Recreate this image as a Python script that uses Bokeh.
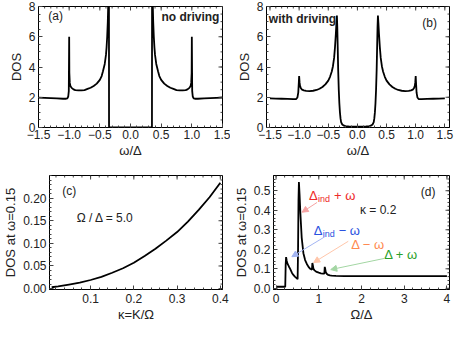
from bokeh.plotting import figure
from bokeh.layouts import column, row
from bokeh.models import FixedTicker, Arrow, NormalHead
from bokeh.core.properties import value
from bokeh.embed import file_html
from bokeh.resources import INLINE
import numpy as np

FONT = "Liberation Sans"

# ---------------- data ----------------
# (a) no driving
a_x = [-1.5, -1.4, -1.3, -1.2, -1.1, -1.05, -1.03, -1.015, -1.006, -1.0, -0.997, -0.99, -0.98,
       -0.96, -0.93, -0.9, -0.85, -0.8, -0.75, -0.7, -0.65, -0.6, -0.55, -0.5, -0.47, -0.45,
       -0.42, -0.40, -0.39, -0.38, -0.37, -0.36, -0.352, -0.35,
       0.35, 0.352, 0.36, 0.37, 0.38, 0.39, 0.40, 0.42, 0.45, 0.47, 0.5, 0.55, 0.6, 0.65, 0.7,
       0.75, 0.8, 0.85, 0.9, 0.93, 0.96, 0.98, 0.99, 0.997, 1.0, 1.006, 1.015, 1.03, 1.05, 1.1,
       1.2, 1.3, 1.4, 1.5]
a_y = [1.98, 1.96, 1.94, 1.92, 1.9, 1.9, 1.93, 2.05, 2.4, 6.0, 3.6, 2.95, 2.75,
       2.62, 2.52, 2.47, 2.45, 2.45, 2.47, 2.55, 2.63, 2.75, 2.9, 3.15, 3.4, 3.7,
       4.2, 4.8, 5.3, 6.0, 7.0, 8.6, 12.0, 0.0,
       0.0, 12.0, 8.6, 7.0, 6.0, 5.3, 4.8, 4.2, 3.7, 3.4, 3.15, 2.9, 2.75, 2.63, 2.55,
       2.47, 2.45, 2.45, 2.47, 2.52, 2.62, 2.75, 2.95, 3.6, 6.0, 2.4, 2.05, 1.93, 1.9, 1.9,
       1.92, 1.94, 1.96, 1.98]

# (b) with driving
b_x = [-1.5, -1.4, -1.3, -1.2, -1.1, -1.05, -1.03, -1.015, -1.005, -1.0, -0.993, -0.985, -0.97,
       -0.95, -0.92, -0.88, -0.82, -0.76, -0.7, -0.65, -0.6, -0.55, -0.5, -0.47, -0.44, -0.42,
       -0.40, -0.385, -0.37, -0.36, -0.352, -0.345, -0.338, -0.33, -0.32, -0.31, -0.30, -0.29,
       -0.28, -0.26, -0.23, -0.2, -0.15, -0.1, 0.0,
       0.1, 0.15, 0.2, 0.23, 0.26, 0.28, 0.29, 0.30, 0.31, 0.32, 0.33, 0.338, 0.345, 0.352, 0.36,
       0.37, 0.385, 0.40, 0.42, 0.44, 0.47, 0.5, 0.55, 0.6, 0.65, 0.7, 0.76, 0.82, 0.88, 0.92,
       0.95, 0.97, 0.985, 0.993, 1.0, 1.005, 1.015, 1.03, 1.05, 1.1, 1.2, 1.3, 1.4, 1.5]
b_y = [1.92, 1.91, 1.9, 1.89, 1.87, 1.88, 1.98, 2.3, 3.0, 3.4, 3.0, 2.75, 2.6,
       2.5, 2.45, 2.42, 2.41, 2.43, 2.48, 2.56, 2.68, 2.85, 3.1, 3.35, 3.7, 4.05,
       4.6, 5.3, 6.2, 6.9, 7.4, 6.6, 5.3, 3.8, 2.5, 1.6, 1.0, 0.6,
       0.35, 0.2, 0.12, 0.09, 0.07, 0.06, 0.06,
       0.06, 0.07, 0.09, 0.12, 0.2, 0.35, 0.6, 1.0, 1.6, 2.5, 3.8, 5.3, 6.6, 7.4, 6.9,
       6.2, 5.3, 4.6, 4.05, 3.7, 3.35, 3.1, 2.85, 2.68, 2.56, 2.48, 2.43, 2.41, 2.42, 2.45,
       2.5, 2.6, 2.75, 3.0, 3.4, 3.0, 2.3, 1.98, 1.88, 1.87, 1.89, 1.9, 1.91, 1.92]

# (c) DOS at omega=0.15 vs kappa
c_x = [0.01, 0.025, 0.05, 0.075, 0.1, 0.125, 0.15, 0.175, 0.2, 0.225, 0.25, 0.275, 0.3,
       0.325, 0.35, 0.375, 0.4]
c_y = [0.003, 0.005, 0.009, 0.013, 0.019, 0.026, 0.035, 0.045, 0.057, 0.072, 0.088, 0.106,
       0.125, 0.148, 0.174, 0.202, 0.234]

# (d) DOS at omega=0.15 vs Omega/Delta
d_x = [0.0, 0.215, 0.225, 0.235, 0.25, 0.27, 0.3, 0.33, 0.37, 0.40, 0.44, 0.48, 0.505,
       0.515, 0.525, 0.535, 0.55, 0.57, 0.6, 0.64, 0.68, 0.72, 0.76, 0.8, 0.84, 0.85, 0.86,
       0.875, 0.9, 0.95, 1.0, 1.05, 1.1, 1.13, 1.14, 1.15, 1.165, 1.19, 1.22, 1.26, 1.3, 1.4,
       1.6, 2.0, 2.5, 3.0, 3.5, 4.0]
d_y = [0.008, 0.008, 0.12, 0.16, 0.14, 0.125, 0.112, 0.1, 0.08, 0.07, 0.06, 0.052, 0.047,
       0.2, 0.45, 0.545, 0.48, 0.38, 0.26, 0.18, 0.145, 0.125, 0.11, 0.1, 0.095, 0.13, 0.12,
       0.1, 0.092, 0.084, 0.08, 0.077, 0.075, 0.075, 0.11, 0.1, 0.082, 0.073, 0.069, 0.066,
       0.065, 0.064, 0.063, 0.063, 0.063, 0.063, 0.063, 0.063]

# ticks
ab_xticks = [-1.5, -1.0, -0.5, 0.0, 0.5, 1.0, 1.5]
ab_xlabels = ["\u22121.5", "\u22121.0", "\u22120.5", "0.0", "0.5", "1.0", "1.5"]
ab_yticks = [0, 2, 4, 6, 8]
ab_ylabels = ["0", "2", "4", "6", "8"]
c_xticks = [0.1, 0.2, 0.3, 0.4]
c_xlabels = ["0.1", "0.2", "0.3", "0.4"]
c_yticks = [0.0, 0.05, 0.10, 0.15, 0.20]
c_ylabels = ["0.00", "0.05", "0.10", "0.15", "0.20"]
d_xticks = [0, 1, 2, 3, 4]
d_xlabels = ["0", "1", "2", "3", "4"]
d_yticks = [0.0, 0.1, 0.2, 0.3, 0.4, 0.5]
d_ylabels = ["0.0", "0.1", "0.2", "0.3", "0.4", "0.5"]

TICKC = "#444444"
TXTC = "#222222"


def make_fig(w, h, xr, yr, bl, br, bt, bb):
    p = figure(width=w, height=h, x_range=xr, y_range=yr, output_backend="svg",
               toolbar_location=None, min_border_left=bl, min_border_right=br,
               min_border_top=bt, min_border_bottom=bb)
    p.xgrid.visible = False
    p.ygrid.visible = False
    p.outline_line_color = "black"
    p.outline_line_width = 1
    p.background_fill_color = "white"
    p.border_fill_color = "white"
    return p


def style_axes(p, xt, xl, xstep, yt, yl, ystep, xlabel, ylabel, xstand=2):
    x0, x1 = p.x_range.start, p.x_range.end
    y0, y1 = p.y_range.start, p.y_range.end
    xminor = [float(v) for v in np.arange(xt[0] - 10 * xstep, xt[-1] + 10 * xstep, xstep)
              if x0 <= v <= x1]
    yminor = [float(v) for v in np.arange(yt[0] - 10 * ystep, yt[-1] + 10 * ystep, ystep)
              if y0 <= v <= y1]
    xtk = FixedTicker(ticks=xt, minor_ticks=xminor)
    ytk = FixedTicker(ticks=yt, minor_ticks=yminor)
    for ax, tk, lab, labels, ticks in ((p.xaxis[0], xtk, xlabel, xl, xt),
                                       (p.yaxis[0], ytk, ylabel, yl, yt)):
        ax.ticker = tk
        ax.major_label_overrides = {t: s for t, s in zip(ticks, labels)}
        ax.axis_label = lab
        ax.axis_label_text_font = FONT
        ax.axis_label_text_font_size = "13px"
        ax.axis_label_text_font_style = "normal"
        ax.axis_label_text_color = TXTC
        ax.axis_label_standoff = 2
        ax.major_label_text_font = FONT
        ax.major_label_text_font_size = "12px"
        ax.major_label_text_color = TXTC
        ax.major_label_standoff = 3
        ax.major_tick_in = 4
        ax.major_tick_out = 0
        ax.minor_tick_in = 2
        ax.minor_tick_out = 0
        ax.axis_line_color = "black"
        ax.major_tick_line_color = TICKC
        ax.minor_tick_line_color = TICKC
    p.xaxis[0].major_label_standoff = xstand
    p.xaxis[0].axis_label_standoff = 1
    # mirrored tick marks on the top and right frame edges
    xmaj = [t for t in xt if x0 <= t <= x1]
    ymaj = [t for t in yt if y0 <= t <= y1]
    p.ray(x=xmaj, y=[y1] * len(xmaj), length=4, length_units="screen", angle=-np.pi / 2,
          line_color=TICKC, line_width=1)
    p.ray(x=xminor, y=[y1] * len(xminor), length=2, length_units="screen", angle=-np.pi / 2,
          line_color=TICKC, line_width=1)
    p.ray(x=[x1] * len(ymaj), y=ymaj, length=4, length_units="screen", angle=np.pi,
          line_color=TICKC, line_width=1)
    p.ray(x=[x1] * len(yminor), y=yminor, length=2, length_units="screen", angle=np.pi,
          line_color=TICKC, line_width=1)


def txt(p, x, y, s, size="12px", color=TXTC, align="left", style="normal", xo=0, yo=0):
    p.text(x=[x], y=[y], text=[s], text_font=value(FONT), text_font_size=size,
           text_color=color, text_align=align, text_baseline="middle",
           text_font_style=style, x_offset=xo, y_offset=yo)


# ---------------- (a) ----------------
pa = make_fig(230, 160, (-1.5, 1.5), (0, 8), 38, 8, 6, 30)
pa.line(a_x, a_y, line_color="black", line_width=1.8)
style_axes(pa, ab_xticks, ab_xlabels, 0.1, ab_yticks, ab_ylabels, 0.5, "\u03c9/\u0394", "DOS")
txt(pa, -1.22, 7.37, "(a)", align="center")
txt(pa, 1.45, 7.3, "no driving", align="right", style="bold")

# ---------------- (b) ----------------
pb = make_fig(225, 160, (-1.56, 1.58), (0, 8), 36, 6, 6, 30)
pb.line(b_x, b_y, line_color="black", line_width=1.8)
style_axes(pb, ab_xticks, ab_xlabels, 0.1, ab_yticks, ab_ylabels, 0.5, "\u03c9/\u0394", "DOS")
txt(pb, -1.52, 7.2, "with driving", align="left", style="bold")
txt(pb, 1.24, 6.9, "(b)", align="center")

# ---------------- (c) ----------------
pc = make_fig(230, 164, (0.005, 0.405), (-0.002, 0.25), 44, 8, 15, 30)
pc.line(c_x, c_y, line_color="black", line_width=1.8)
style_axes(pc, c_xticks, c_xlabels, 0.02, c_yticks, c_ylabels, 0.01,
           "\u03ba=K/\u03a9", "DOS at \u03c9=0.15", xstand=4)
txt(pc, 0.0505, 0.216, "(c)", align="center")
txt(pc, 0.068, 0.156, "\u03a9 / \u0394 = 5.0", align="left")

# ---------------- (d) ----------------
pd = make_fig(225, 164, (-0.06, 4.06), (-0.006, 0.578), 40, 6, 15, 30)
pd.line(d_x, d_y, line_color="black", line_width=1.8)
style_axes(pd, d_xticks, d_xlabels, 0.2, d_yticks, d_ylabels, 0.02,
           "\u03a9/\u0394", "DOS at \u03c9=0.15", xstand=4)
txt(pd, 3.56, 0.495, "(d)", align="center")
txt(pd, 2.39, 0.40, "\u03ba = 0.2", align="center")

RED, BLUE, ORANGE, GREEN = "#ee2a2a", "#2a52e0", "#ff8a50", "#2aa02a"
RED_L, BLUE_L, ORANGE_L, GREEN_L = "#f5a3a3", "#a3b5f3", "#ffc6aa", "#a3d6a3"

# Delta_ind + omega
txt(pd, 0.77, 0.475, "\u0394", size="13px", color=RED)
txt(pd, 0.77, 0.475, "ind", size="9px", color=RED, xo=9, yo=3)
txt(pd, 0.77, 0.475, "+ \u03c9", size="13px", color=RED, xo=25)
# Delta_ind - omega
txt(pd, 0.88, 0.294, "\u0394", size="13px", color=BLUE)
txt(pd, 0.88, 0.294, "ind", size="9px", color=BLUE, xo=9, yo=3)
txt(pd, 0.88, 0.294, "\u2212 \u03c9", size="13px", color=BLUE, xo=25)
# Delta - omega
txt(pd, 1.76, 0.225, "\u0394 \u2212 \u03c9", size="13px", color=ORANGE)
# Delta + omega
txt(pd, 2.53, 0.175, "\u0394 + \u03c9", size="13px", color=GREEN)

for (xs, ys, xe, ye, c) in ((0.96, 0.44, 0.61, 0.39, RED_L),
                            (1.14, 0.264, 0.37, 0.162, BLUE_L),
                            (1.69, 0.241, 0.88, 0.132, ORANGE_L),
                            (2.53, 0.153, 1.28, 0.096, GREEN_L)):
    pd.add_layout(Arrow(end=NormalHead(size=6, fill_color=c, line_color=c),
                        x_start=xs, y_start=ys, x_end=xe, y_end=ye,
                        line_color=c, line_width=1))

layout = column(row(pa, pb), row(pc, pd))
open("out.html", "w").write(file_html(layout, INLINE))
